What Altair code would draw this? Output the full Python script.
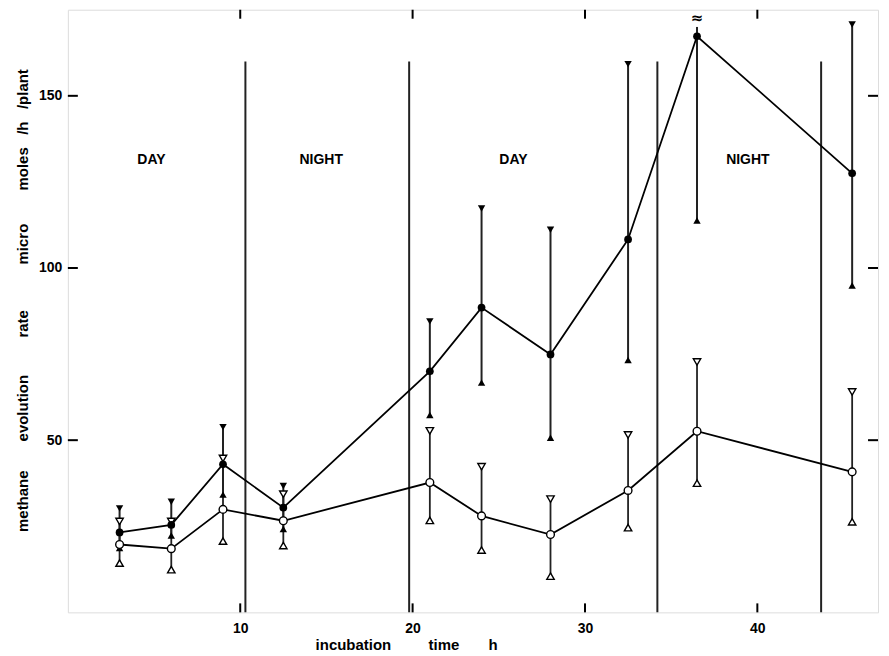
import altair as alt
import pandas as pd

# ---- data ----
times = [3, 6, 9, 12.5, 21, 24, 28, 32.5, 36.5, 45.5]
filled_mean = [23.2, 25.4, 43.0, 30.4, 70.0, 88.5, 74.9, 108.3, 167.3, 127.5]
filled_hi = [30.2, 32.1, 53.8, 36.7, 84.5, 117.3, 111.1, 159.2, None, 170.7]
filled_lo = [18.7, 22.3, 34.2, 24.2, 57.3, 66.7, 50.7, 73.3, 113.8, 94.9]
open_mean = [19.7, 18.5, 29.9, 26.6, 37.7, 28.0, 22.6, 35.4, 52.6, 40.8]
open_hi = [26.4, 26.4, 44.7, 34.3, 52.7, 42.3, 32.9, 51.5, 72.7, 64.0]
open_lo = [14.3, 12.4, 20.7, 19.4, 26.7, 18.1, 10.5, 24.6, 37.5, 26.3]

break_x = [36.5]          # off-scale upper limit (axis break)
break_bar_top = 170       # error bar runs up to the break symbol
break_symbol_y = [172.6]

boundaries = [10.3, 19.8, 34.2, 43.7]
boundary_top = 160
period_labels = ["DAY", "NIGHT", "DAY", "NIGHT"]
period_x = [4.85, 14.7, 25.85, 39.45]
period_y = [131.4, 131.4, 131.4, 131.4]

x_ticks = [10, 20, 30, 40]
y_ticks = [50, 100, 150]

W, H = 812, 604
FONT = "Liberation Sans"


def gap(n):
    return "\u00a0" * n


xs = alt.Scale(domain=[0, 47], nice=False, zero=False)
ys = alt.Scale(domain=[0, 175], nice=False, zero=False)

x_axis = alt.Axis(
    values=x_ticks, tickSize=0, domain=False, grid=False,
    labelFont=FONT, labelFontSize=14, labelFontWeight="bold", labelPadding=9,
    labelColor="black",
    title=f"incubation{gap(9)}time{gap(7)}h",
    titleFont=FONT, titleFontSize=15, titleFontWeight="bold", titleColor="black",
    titleX=339, titleY=37, titleAlign="center", titleBaseline="alphabetic",
)
y_axis = alt.Axis(
    values=y_ticks, tickSize=0, domain=False, grid=False,
    labelFont=FONT, labelFontSize=14, labelFontWeight="bold", labelPadding=6,
    labelColor="black",
    title=(f"methane{gap(7)}evolution{gap(9)}rate{gap(11)}micro{gap(8)}"
           f"moles{gap(3)}/h{gap(3)}/plant"),
    titleFont=FONT, titleFontSize=15, titleFontWeight="bold", titleColor="black",
    titleX=-40, titleY=291, titleAngle=270, titleAlign="center",
    titleBaseline="alphabetic",
)


def X(f="x"):
    return alt.X(f"{f}:Q", scale=xs, axis=x_axis)


def Y(f="y"):
    return alt.Y(f"{f}:Q", scale=ys, axis=y_axis)


filled = pd.DataFrame({
    "x": times, "y": filled_mean, "lo": filled_lo,
    "hi": filled_hi,
    "bar_hi": [h if h is not None else break_bar_top for h in filled_hi],
})
opened = pd.DataFrame({"x": times, "y": open_mean, "lo": open_lo, "hi": open_hi})
bounds = pd.DataFrame({"x": boundaries, "y": [0] * len(boundaries),
                       "y2": [boundary_top] * len(boundaries)})
periods = pd.DataFrame({"x": period_x, "y": period_y, "label": period_labels})
brk = pd.DataFrame({"x": break_x, "y": break_symbol_y, "label": ["≈"]})
xt = pd.DataFrame({"x": x_ticks})
yt = pd.DataFrame({"y": y_ticks})

boundary_rules = alt.Chart(bounds).mark_rule(color="#222", strokeWidth=2).encode(
    x=X(), y=Y(), y2="y2:Q")

filled_bars = alt.Chart(filled).mark_rule(color="#222", strokeWidth=2).encode(
    x=X(), y=Y("lo"), y2="bar_hi:Q")
open_bars = alt.Chart(opened).mark_rule(color="#222", strokeWidth=1.8).encode(
    x=X(), y=Y("lo"), y2="hi:Q")

filled_line = alt.Chart(filled).mark_line(color="black", strokeWidth=1.8).encode(
    x=X(), y=Y())
open_line = alt.Chart(opened).mark_line(color="black", strokeWidth=1.8).encode(
    x=X(), y=Y())

tri_f_hi = alt.Chart(filled.dropna(subset=["hi"])).mark_point(
    shape="triangle-down", filled=True, color="black", size=55, opacity=1).encode(
    x=X(), y=Y("hi"))
tri_f_lo = alt.Chart(filled).mark_point(
    shape="triangle-up", filled=True, color="black", size=55, opacity=1).encode(
    x=X(), y=Y("lo"))
tri_o_hi = alt.Chart(opened).mark_point(
    shape="triangle-down", filled=True, fill="white", stroke="black",
    strokeWidth=1.4, size=55, opacity=1).encode(x=X(), y=Y("hi"))
tri_o_lo = alt.Chart(opened).mark_point(
    shape="triangle-up", filled=True, fill="white", stroke="black",
    strokeWidth=1.4, size=55, opacity=1).encode(x=X(), y=Y("lo"))

circ_f = alt.Chart(filled).mark_point(
    shape="circle", filled=True, color="black", size=60, opacity=1).encode(
    x=X(), y=Y())
circ_o = alt.Chart(opened).mark_point(
    shape="circle", filled=True, fill="white", stroke="black",
    strokeWidth=1.4, size=60, opacity=1).encode(x=X(), y=Y())

period_text = alt.Chart(periods).mark_text(
    font=FONT, fontSize=14, fontWeight="bold", color="black").encode(
    x=X(), y=Y(), text="label:N")
break_text = alt.Chart(brk).mark_text(
    font="DejaVu Sans", fontSize=15, fontWeight="bold", color="black",
    baseline="middle").encode(
    x=X(), y=Y(), text="label:N")

tick_w = 2
bottom_ticks = alt.Chart(xt).mark_rule(color="black", strokeWidth=tick_w).encode(
    x=X(), y=alt.value(H), y2=alt.value(H - 9))
top_ticks = alt.Chart(xt).mark_rule(color="black", strokeWidth=tick_w).encode(
    x=X(), y=alt.value(0), y2=alt.value(9))
left_ticks = alt.Chart(yt).mark_rule(color="black", strokeWidth=tick_w).encode(
    y=Y(), x=alt.value(0), x2=alt.value(10))
right_ticks = alt.Chart(yt).mark_rule(color="black", strokeWidth=tick_w).encode(
    y=Y(), x=alt.value(W - 10), x2=alt.value(W))

chart = alt.layer(
    boundary_rules, filled_bars, open_bars, filled_line, open_line,
    tri_f_hi, tri_f_lo, tri_o_hi, tri_o_lo, circ_f, circ_o,
    period_text, break_text, bottom_ticks, top_ticks, left_ticks, right_ticks,
).properties(
    width=W, height=H,
    padding={"left": 7, "top": 0, "right": 2, "bottom": 0},
    background="white",
).configure_view(
    stroke="black", strokeWidth=2.2
).configure(font=FONT)

chart.save("out.html", embed_options={"renderer": "svg", "actions": False})
